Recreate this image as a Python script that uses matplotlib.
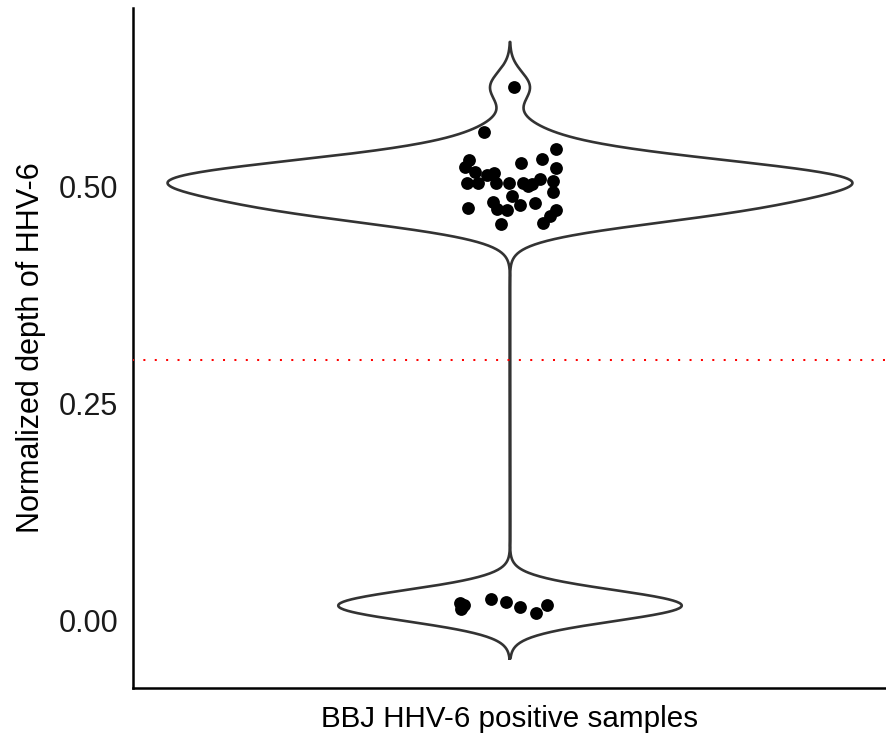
import numpy as np
import matplotlib
matplotlib.use("Agg")
import matplotlib.pyplot as plt

plt.rcParams['font.family'] = ['Liberation Sans', 'DejaVu Sans']

category = "BBJ HHV-6 positive samples"
y_label = "Normalized depth of HHV-6"
threshold = 0.30
y_ticks = [0.00, 0.25, 0.50]
y_tick_labels = ["0.00", "0.25", "0.50"]

# upper cluster (depth values) and horizontal jitter offsets
upper_values = [0.614, 0.562, 0.543, 0.530, 0.522, 0.527, 0.531, 0.521, 0.516, 0.513,
                0.515, 0.504, 0.503, 0.503, 0.504, 0.504, 0.502, 0.508, 0.506, 0.500,
                0.493, 0.489, 0.482, 0.475, 0.473, 0.472, 0.478, 0.480, 0.472, 0.466,
                0.458, 0.456]
upper_jitter = [0.007, -0.042, 0.073, -0.065, -0.072, 0.018, 0.051, 0.073, -0.055, -0.036,
                -0.025, -0.068, -0.051, -0.022, -0.001, 0.020, 0.035, 0.048, 0.068, 0.028,
                0.068, 0.003, -0.027, -0.067, -0.021, -0.005, 0.016, 0.039, 0.073, 0.064,
                0.053, -0.014]
lower_values = [0.020, 0.015, 0.018, 0.013, 0.025, 0.021, 0.015, 0.008, 0.017]
lower_jitter = [-0.080, -0.076, -0.073, -0.078, -0.030, -0.007, 0.016, 0.042, 0.059]

values = np.array(upper_values + lower_values)
jitter = np.array(upper_jitter + lower_jitter)

# Gaussian KDE, untrimmed (extends 3 bandwidths beyond data)
bw = 0.0173
grid = np.linspace(values.min() - 3 * bw, values.max() + 3 * bw, 1024)
dens = np.exp(-0.5 * ((grid[:, None] - values[None, :]) / bw) ** 2).sum(axis=1)
half_width = 0.545
dens = dens / dens.max() * half_width

fig = plt.figure(figsize=(8.87, 7.36), dpi=100)
ax = fig.add_axes([133 / 887, (736 - 688) / 736, (887 - 133) / 887, (688 - 8) / 736])

x0 = 1.0
xs = np.concatenate([x0 - dens, (x0 + dens)[::-1], [x0 - dens[0]]])
ys = np.concatenate([grid, grid[::-1], [grid[0]]])
ax.fill(xs, ys, color="white", zorder=1)
ax.plot(xs, ys, color="#333333", lw=1.9, zorder=2, solid_joinstyle="round")

ax.axhline(threshold, color="#ff0000", lw=1.45, linestyle=(0.5, (1, 4.65)), zorder=3)

ax.scatter(x0 + jitter, values, s=85, color="black", zorder=4, linewidths=0)

ax.set_xlim(0.4, 1.6)
ax.set_ylim(-0.078, 0.705)
ax.set_yticks(y_ticks)
ax.set_yticklabels(y_tick_labels)
ax.set_xticks([])
ax.tick_params(axis="y", length=0, labelsize=22, pad=10.5, colors="#1a1a1a")
ax.set_ylabel(y_label, fontsize=22, labelpad=9, color="black")
ax.set_xlabel(category, fontsize=21.3, labelpad=12, color="black")

for side in ["top", "right"]:
    ax.spines[side].set_visible(False)
for side in ["left", "bottom"]:
    ax.spines[side].set_linewidth(1.8)
    ax.spines[side].set_color("black")

fig.savefig("out.png", dpi=100)
